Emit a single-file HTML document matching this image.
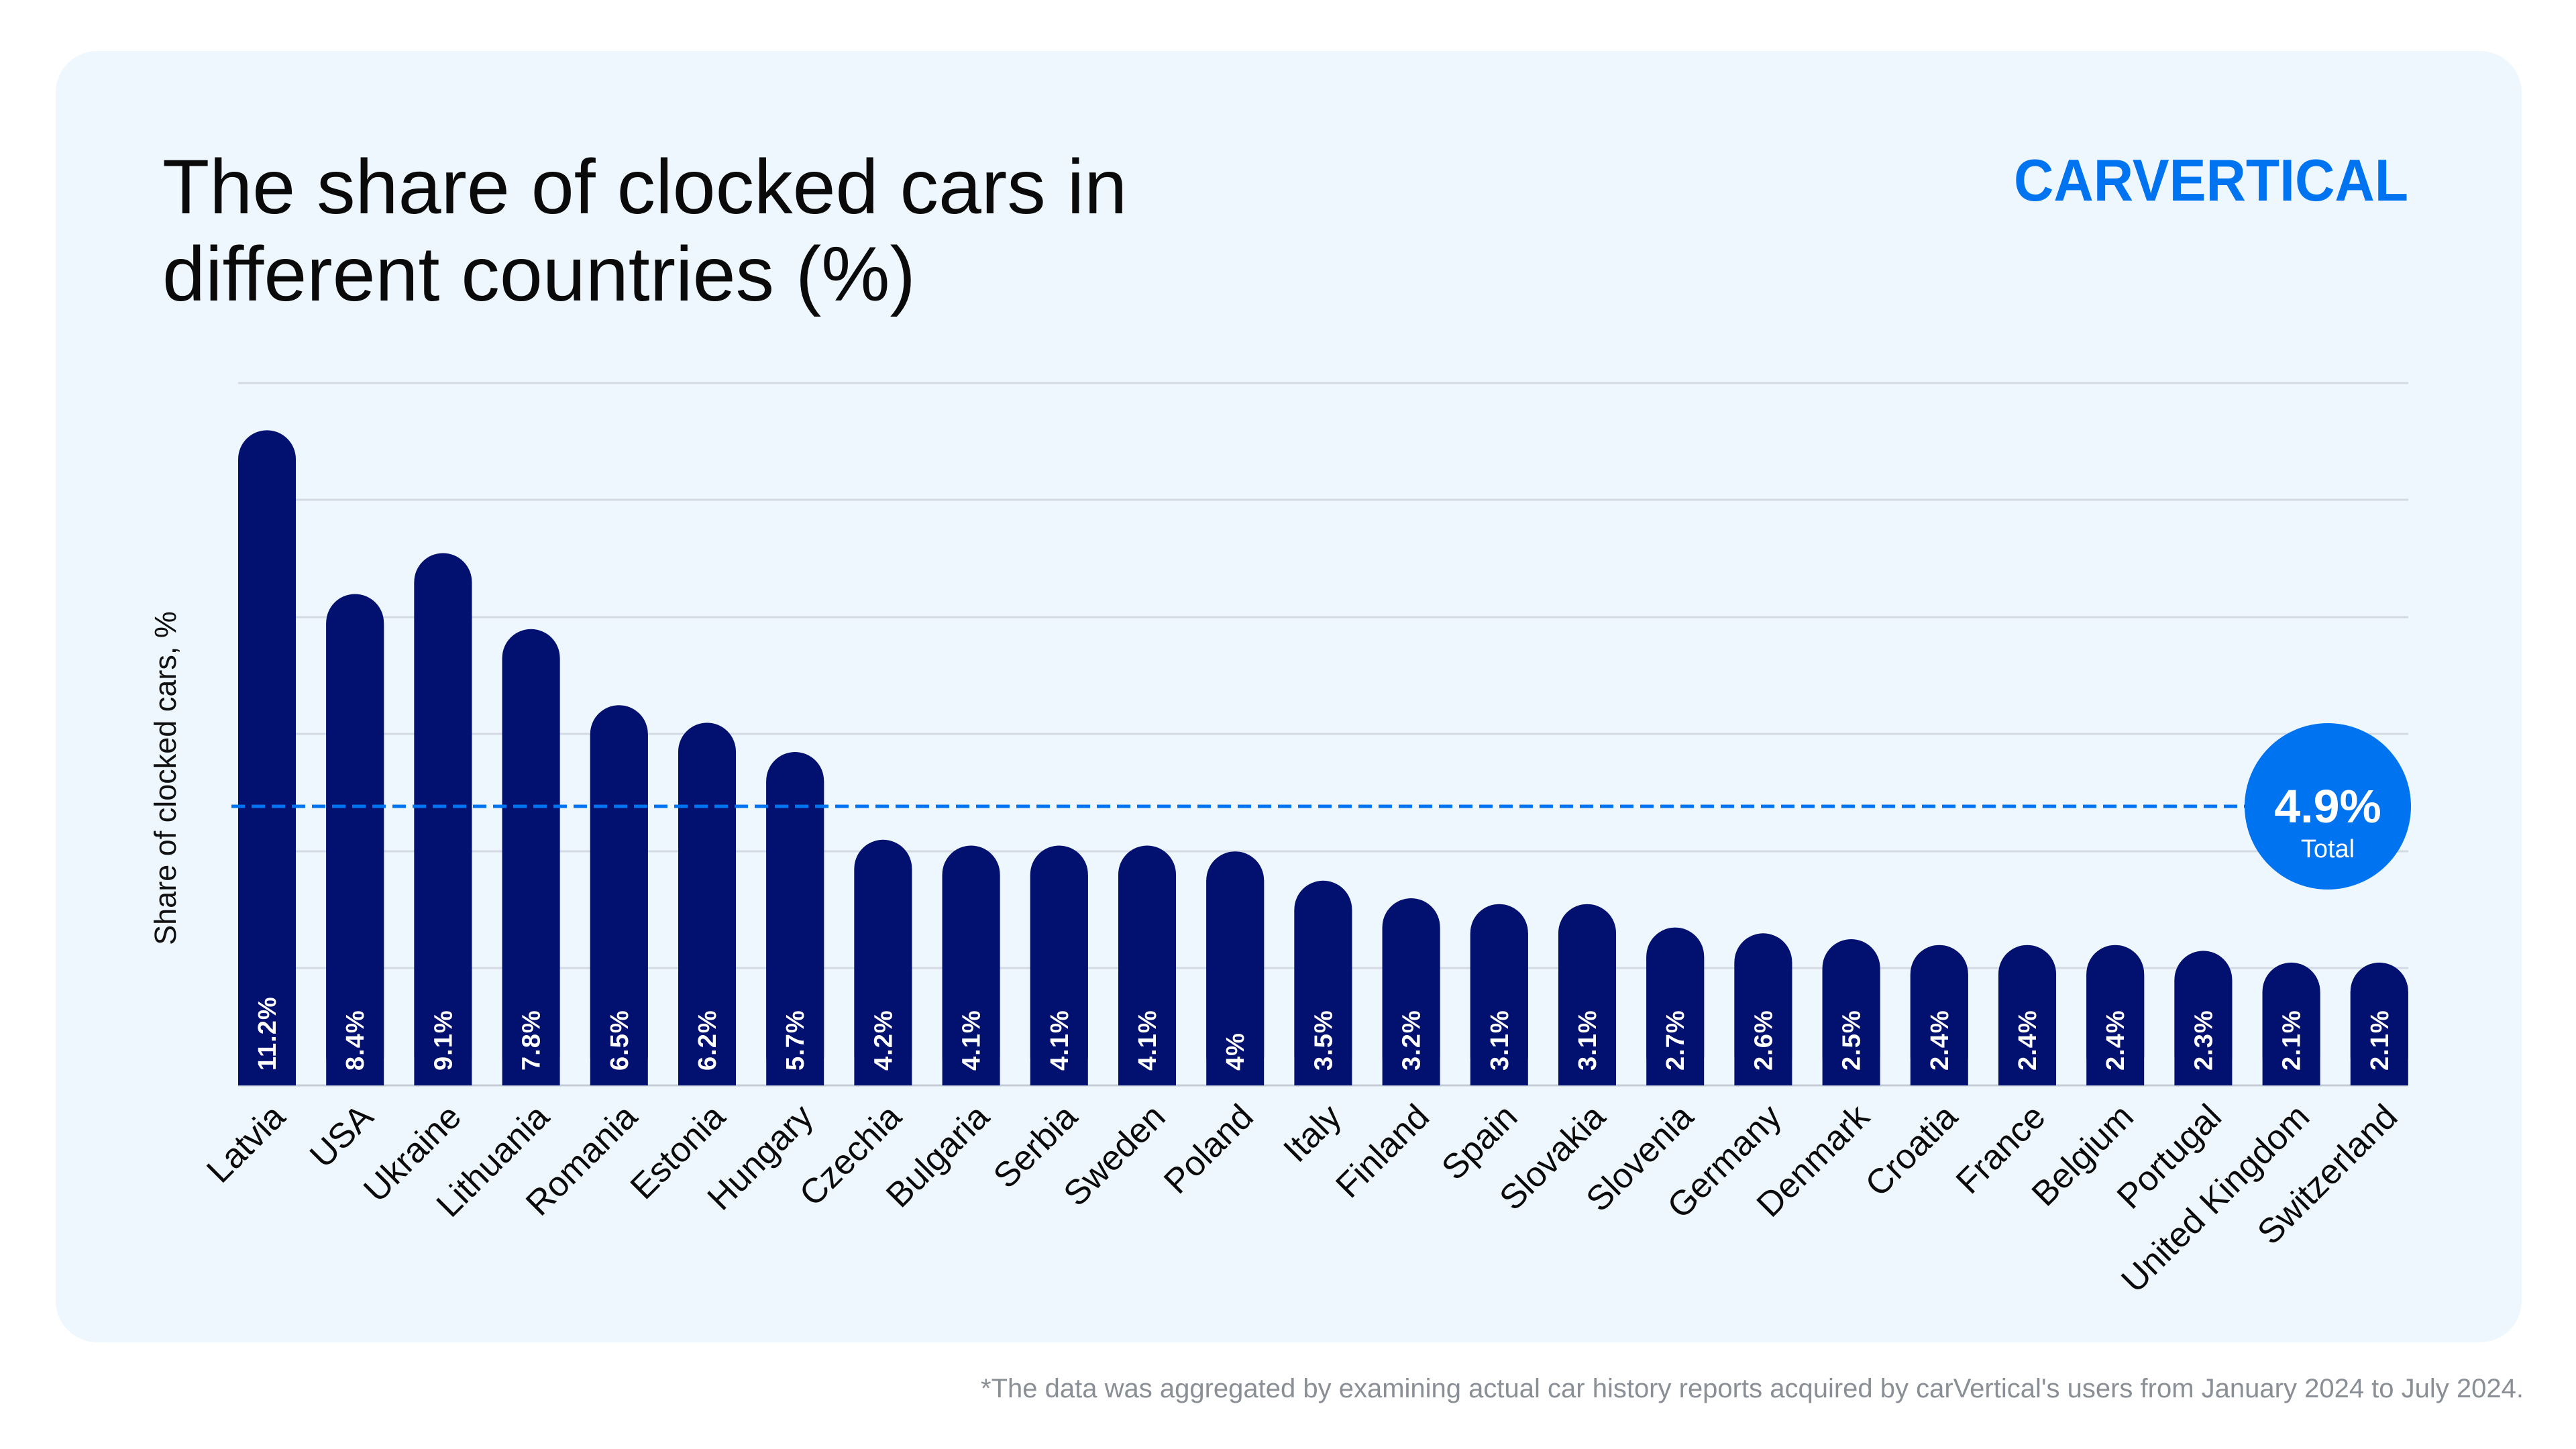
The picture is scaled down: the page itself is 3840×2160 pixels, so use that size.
<!DOCTYPE html>
<html><head><meta charset="utf-8"><style>
html,body{margin:0;padding:0;background:#fff;}
svg{display:block;}
text{font-family:"Liberation Sans",sans-serif;}
.v{font-size:38px;font-weight:bold;fill:#fff;letter-spacing:1px;}
.c{font-size:52px;fill:#0a0a0a;text-anchor:end;}
</style></head><body>
<svg width="3840" height="2160" viewBox="0 0 3840 2160" xmlns="http://www.w3.org/2000/svg">
<rect x="0" y="0" width="3840" height="2160" fill="#ffffff"/>
<rect x="83" y="76" width="3676" height="1925" rx="62" fill="#EFF7FE"/>
<text x="242" y="318" font-size="115" fill="#0a0a0a">The share of clocked cars in</text>
<text x="242" y="448" font-size="115" fill="#0a0a0a">different countries (%)</text>
<text x="3002" y="299" font-size="88" font-weight="bold" fill="#0073F0" textLength="588" lengthAdjust="spacingAndGlyphs">CARVERTICAL</text>
<g stroke="#D3DAE3" stroke-width="3">
<line x1="355" x2="3590" y1="571" y2="571"/>
<line x1="355" x2="3590" y1="745" y2="745"/>
<line x1="355" x2="3590" y1="920" y2="920"/>
<line x1="355" x2="3590" y1="1094" y2="1094"/>
<line x1="355" x2="3590" y1="1269" y2="1269"/>
<line x1="355" x2="3590" y1="1443" y2="1443"/>
<line x1="355" x2="3590" y1="1618" y2="1618" stroke="#C5CCD6"/>
</g>
<text transform="translate(262,1160) rotate(-90)" text-anchor="middle" font-size="45" fill="#111">Share of clocked cars, %</text>
<g fill="#021070">
<rect x="355" y="641.4" width="86" height="976.6" rx="43"/><rect x="355" y="684.4" width="86" height="933.6"/>
<rect x="486.2" y="885.5" width="86" height="732.5" rx="43"/><rect x="486.2" y="928.5" width="86" height="689.5"/>
<rect x="617.4" y="824.5" width="86" height="793.5" rx="43"/><rect x="617.4" y="867.5" width="86" height="750.5"/>
<rect x="748.6" y="937.8" width="86" height="680.2" rx="43"/><rect x="748.6" y="980.8" width="86" height="637.2"/>
<rect x="879.8" y="1051.2" width="86" height="566.8" rx="43"/><rect x="879.8" y="1094.2" width="86" height="523.8"/>
<rect x="1011" y="1077.4" width="86" height="540.6" rx="43"/><rect x="1011" y="1120.4" width="86" height="497.6"/>
<rect x="1142.2" y="1121" width="86" height="497" rx="43"/><rect x="1142.2" y="1164" width="86" height="454"/>
<rect x="1273.4" y="1251.8" width="86" height="366.2" rx="43"/><rect x="1273.4" y="1294.8" width="86" height="323.2"/>
<rect x="1404.6" y="1260.5" width="86" height="357.5" rx="43"/><rect x="1404.6" y="1303.5" width="86" height="314.5"/>
<rect x="1535.8" y="1260.5" width="86" height="357.5" rx="43"/><rect x="1535.8" y="1303.5" width="86" height="314.5"/>
<rect x="1667" y="1260.5" width="86" height="357.5" rx="43"/><rect x="1667" y="1303.5" width="86" height="314.5"/>
<rect x="1798.2" y="1269.2" width="86" height="348.8" rx="43"/><rect x="1798.2" y="1312.2" width="86" height="305.8"/>
<rect x="1929.4" y="1312.8" width="86" height="305.2" rx="43"/><rect x="1929.4" y="1355.8" width="86" height="262.2"/>
<rect x="2060.6" y="1339" width="86" height="279" rx="43"/><rect x="2060.6" y="1382" width="86" height="236"/>
<rect x="2191.8" y="1347.7" width="86" height="270.3" rx="43"/><rect x="2191.8" y="1390.7" width="86" height="227.3"/>
<rect x="2323" y="1347.7" width="86" height="270.3" rx="43"/><rect x="2323" y="1390.7" width="86" height="227.3"/>
<rect x="2454.2" y="1382.6" width="86" height="235.4" rx="43"/><rect x="2454.2" y="1425.6" width="86" height="192.4"/>
<rect x="2585.4" y="1391.3" width="86" height="226.7" rx="43"/><rect x="2585.4" y="1434.3" width="86" height="183.7"/>
<rect x="2716.6" y="1400" width="86" height="218" rx="43"/><rect x="2716.6" y="1443" width="86" height="175"/>
<rect x="2847.8" y="1408.7" width="86" height="209.3" rx="43"/><rect x="2847.8" y="1451.7" width="86" height="166.3"/>
<rect x="2979" y="1408.7" width="86" height="209.3" rx="43"/><rect x="2979" y="1451.7" width="86" height="166.3"/>
<rect x="3110.2" y="1408.7" width="86" height="209.3" rx="43"/><rect x="3110.2" y="1451.7" width="86" height="166.3"/>
<rect x="3241.4" y="1417.4" width="86" height="200.6" rx="43"/><rect x="3241.4" y="1460.4" width="86" height="157.6"/>
<rect x="3372.6" y="1434.9" width="86" height="183.1" rx="43"/><rect x="3372.6" y="1477.9" width="86" height="140.1"/>
<rect x="3503.8" y="1434.9" width="86" height="183.1" rx="43"/><rect x="3503.8" y="1477.9" width="86" height="140.1"/>
</g>
<g>
<text class="v" transform="translate(411,1596) rotate(-90)">11.2%</text>
<text class="v" transform="translate(542.2,1596) rotate(-90)">8.4%</text>
<text class="v" transform="translate(673.4,1596) rotate(-90)">9.1%</text>
<text class="v" transform="translate(804.6,1596) rotate(-90)">7.8%</text>
<text class="v" transform="translate(935.8,1596) rotate(-90)">6.5%</text>
<text class="v" transform="translate(1067,1596) rotate(-90)">6.2%</text>
<text class="v" transform="translate(1198.2,1596) rotate(-90)">5.7%</text>
<text class="v" transform="translate(1329.4,1596) rotate(-90)">4.2%</text>
<text class="v" transform="translate(1460.6,1596) rotate(-90)">4.1%</text>
<text class="v" transform="translate(1591.8,1596) rotate(-90)">4.1%</text>
<text class="v" transform="translate(1723,1596) rotate(-90)">4.1%</text>
<text class="v" transform="translate(1854.2,1596) rotate(-90)">4%</text>
<text class="v" transform="translate(1985.4,1596) rotate(-90)">3.5%</text>
<text class="v" transform="translate(2116.6,1596) rotate(-90)">3.2%</text>
<text class="v" transform="translate(2247.8,1596) rotate(-90)">3.1%</text>
<text class="v" transform="translate(2379,1596) rotate(-90)">3.1%</text>
<text class="v" transform="translate(2510.2,1596) rotate(-90)">2.7%</text>
<text class="v" transform="translate(2641.4,1596) rotate(-90)">2.6%</text>
<text class="v" transform="translate(2772.6,1596) rotate(-90)">2.5%</text>
<text class="v" transform="translate(2903.8,1596) rotate(-90)">2.4%</text>
<text class="v" transform="translate(3035,1596) rotate(-90)">2.4%</text>
<text class="v" transform="translate(3166.2,1596) rotate(-90)">2.4%</text>
<text class="v" transform="translate(3297.4,1596) rotate(-90)">2.3%</text>
<text class="v" transform="translate(3428.6,1596) rotate(-90)">2.1%</text>
<text class="v" transform="translate(3559.8,1596) rotate(-90)">2.1%</text>
</g>
<g>
<text class="c" transform="translate(428,1668) rotate(-45)">Latvia</text>
<text class="c" transform="translate(559.2,1668) rotate(-45)">USA</text>
<text class="c" transform="translate(690.4,1668) rotate(-45)">Ukraine</text>
<text class="c" transform="translate(821.6,1668) rotate(-45)">Lithuania</text>
<text class="c" transform="translate(952.8,1668) rotate(-45)">Romania</text>
<text class="c" transform="translate(1084,1668) rotate(-45)">Estonia</text>
<text class="c" transform="translate(1215.2,1668) rotate(-45)">Hungary</text>
<text class="c" transform="translate(1346.4,1668) rotate(-45)">Czechia</text>
<text class="c" transform="translate(1477.6,1668) rotate(-45)">Bulgaria</text>
<text class="c" transform="translate(1608.8,1668) rotate(-45)">Serbia</text>
<text class="c" transform="translate(1740,1668) rotate(-45)">Sweden</text>
<text class="c" transform="translate(1871.2,1668) rotate(-45)">Poland</text>
<text class="c" transform="translate(2002.4,1668) rotate(-45)">Italy</text>
<text class="c" transform="translate(2133.6,1668) rotate(-45)">Finland</text>
<text class="c" transform="translate(2264.8,1668) rotate(-45)">Spain</text>
<text class="c" transform="translate(2396,1668) rotate(-45)">Slovakia</text>
<text class="c" transform="translate(2527.2,1668) rotate(-45)">Slovenia</text>
<text class="c" transform="translate(2658.4,1668) rotate(-45)">Germany</text>
<text class="c" transform="translate(2789.6,1668) rotate(-45)">Denmark</text>
<text class="c" transform="translate(2920.8,1668) rotate(-45)">Croatia</text>
<text class="c" transform="translate(3052,1668) rotate(-45)">France</text>
<text class="c" transform="translate(3183.2,1668) rotate(-45)">Belgium</text>
<text class="c" transform="translate(3314.4,1668) rotate(-45)">Portugal</text>
<text class="c" transform="translate(3445.6,1668) rotate(-45)">United Kingdom</text>
<text class="c" transform="translate(3576.8,1668) rotate(-45)">Switzerland</text>
</g>
<line x1="345" x2="3350" y1="1202" y2="1202" stroke="#0073F0" stroke-width="5" stroke-dasharray="20 10"/>
<circle cx="3470" cy="1202" r="124" fill="#0073F0"/>
<text x="3470" y="1226" text-anchor="middle" font-size="70" font-weight="bold" fill="#fff">4.9%</text>
<text x="3470" y="1278" text-anchor="middle" font-size="38" fill="#fff">Total</text>
<text x="3762" y="2083" text-anchor="end" font-size="40" fill="#8a8f96">*The data was aggregated by examining actual car history reports acquired by carVertical's users from January 2024 to July 2024.</text>
</svg>
</body></html>
